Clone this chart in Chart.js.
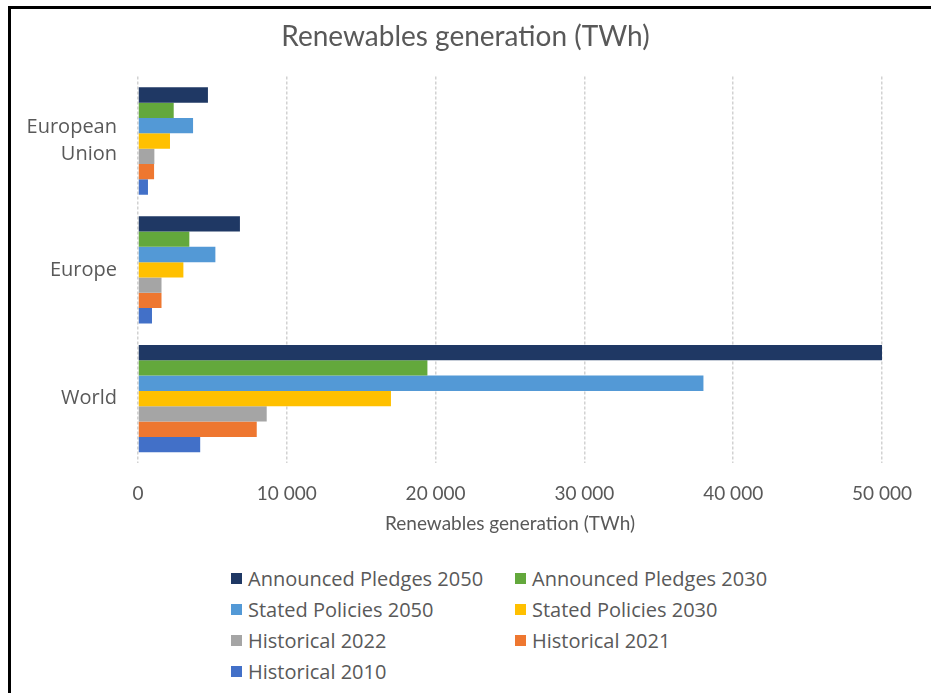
<!DOCTYPE html>
<html>
<head>
<meta charset="utf-8">
<script src="https://cdn.jsdelivr.net/npm/chart.js@4.4.1/dist/chart.umd.min.js"></script>
<style>
    body { margin: 0; background: #fff; }
    #frame {
        position: absolute; left: 8px; top: 6px; width: 923px; height: 687px;
        border-left: 3px solid #000; border-top: 3px solid #000;
    }
    #wrap { position: absolute; left: 0; top: 0; width: 931px; height: 543px; }
    #legend {
        position: absolute; left: 231px; top: 566px;
        display: grid; grid-template-columns: 284px 260px; row-gap: 6px;
        font-family: "Open Sans", sans-serif; font-size: 20px; color: #595959;
    }
    .item { display: flex; align-items: center; height: 25px; white-space: nowrap; }
    .box { width: 11px; height: 11px; margin-right: 6px; }
</style>
</head>
<body>
<div id="frame"></div>
<div id="wrap"><canvas id="myChart" width="931" height="543"></canvas></div>
<div id="legend"></div>
<script>
let regions = [["European", "Union"], "Europe", "World"]

let seriesNames = ["Announced Pledges 2050", "Announced Pledges 2030", "Stated Policies 2050",
    "Stated Policies 2030", "Historical 2022", "Historical 2021", "Historical 2010"]

// TWh, order: European Union, Europe, World
let pledges2050 = [4700, 6850, 50000]
let pledges2030 = [2400, 3450, 19450]
let stated2050 = [3700, 5200, 38000]
let stated2030 = [2150, 3050, 17000]
let hist2022 = [1100, 1580, 8650]
let hist2021 = [1080, 1580, 7980]
let hist2010 = [670, 940, 4180]

let xTicks = [0, 10000, 20000, 30000, 40000, 50000]

let colors = ["#1f3864", "#63a83c", "#5399d6", "#ffc000", "#a5a5a5", "#ee7730", "#4270c8"]
let values = [pledges2050, pledges2030, stated2050, stated2030, hist2022, hist2021, hist2010]

let datasets = []
for (let i = 0; i < seriesNames.length; i++) {
    datasets.push({
        label: seriesNames[i],
        data: values[i],
        backgroundColor: colors[i],
        borderWidth: 0,
        categoryPercentage: 0.833,
        barPercentage: 1
    })
}

function spaced(v) {
    return String(v).replace(/\B(?=(\d{3})+(?!\d))/g, "\u00a0")
}

const ctx = document.getElementById("myChart")
const chart = new Chart(ctx, {
    type: "bar",
    data: { labels: regions, datasets: datasets },
    options: {
        indexAxis: "y",
        responsive: false,
        animation: false,
        layout: { padding: { left: 0, right: 0, top: 0, bottom: 4 } },
        plugins: {
            legend: { display: false },
            tooltip: { enabled: false },
            title: {
                display: true,
                text: "Renewables generation (TWh)",
                color: "#595959",
                font: { family: "Lato", size: 28, weight: "normal" },
                padding: { top: 20, bottom: 23 }
            }
        },
        scales: {
            x: {
                min: 0,
                max: 50000,
                afterBuildTicks: (axis) => { axis.ticks = xTicks.map(v => ({ value: v })) },
                afterFit: (axis) => {
                    axis.height = 76
                    axis.paddingLeft = 0
                    axis.paddingRight = 49
                },
                ticks: {
                    color: "#595959",
                    font: { family: "Lato", size: 19 },
                    padding: 19,
                    callback: (v) => spaced(v)
                },
                grid: { color: "#d2d2d2", lineWidth: 1.5, drawTicks: false },
                border: { display: false, dash: [3, 2] },
                title: {
                    display: true,
                    text: "Renewables generation (TWh)",
                    color: "#595959",
                    font: { family: "Lato", size: 19 },
                    padding: { top: 8, bottom: 4 }
                }
            },
            y: {
                afterFit: (axis) => { axis.width = 138 },
                ticks: {
                    color: "#595959",
                    font: { family: "Open Sans", size: 20, lineHeight: 1.35 },
                    padding: 13
                },
                grid: { display: false },
                border: { display: false }
            }
        }
    }
})

let legendHtml = ""
for (let i = 0; i < chart.data.datasets.length; i++) {
    legendHtml += `<div class="item"><span class="box" style="background:${chart.data.datasets[i].backgroundColor}"></span>${chart.data.datasets[i].label}</div>`
}
document.getElementById("legend").innerHTML = legendHtml
</script>
</body>
</html>
